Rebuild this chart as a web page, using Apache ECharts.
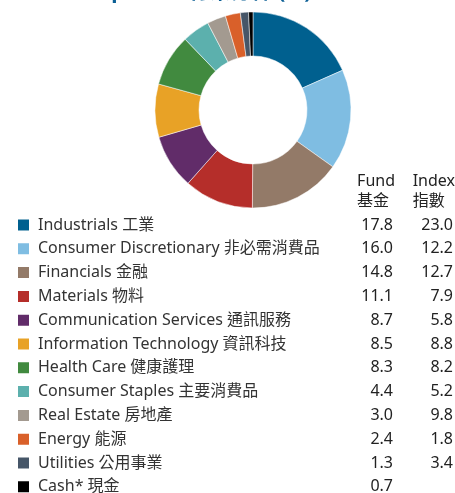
<!DOCTYPE html>
<html>
<head>
<meta charset="utf-8">
<script src="https://cdn.jsdelivr.net/npm/echarts@6/dist/echarts.min.js"></script>
<style>
  html, body { margin: 0; padding: 0; background: #fff; }
  #main { width: 455px; height: 493px; }
</style>
</head>
<body>
<div id="main"></div>
<script>
// sector names, fund weights, index weights (%)
var sectors = ['Industrials 工業', 'Consumer Discretionary 非必需消費品', 'Financials 金融',
    'Materials 物料', 'Communication Services 通訊服務', 'Information Technology 資訊科技',
    'Health Care 健康護理', 'Consumer Staples 主要消費品', 'Real Estate 房地產',
    'Energy 能源', 'Utilities 公用事業', 'Cash* 現金'];
var fundValues = [17.8, 16.0, 14.8, 11.1, 8.7, 8.5, 8.3, 4.4, 3.0, 2.4, 1.3, 0.7];
var indexValues = [23.0, 12.2, 12.7, 7.9, 5.8, 8.8, 8.2, 5.2, 9.8, 1.8, 3.4, null];
var colors = ['#00608f', '#7fbde2', '#937a68', '#b52e2a', '#612c69', '#e8a226',
    '#418a3f', '#5cb0ad', '#a39a90', '#d9602a', '#465668', '#000000'];

var font = '"Noto Sans", "Noto Sans CJK TC", sans-serif';

var dom = document.getElementById('main');
var myChart = echarts.init(dom);

var pieData = sectors.map(function (name, i) {
    return { name: name, value: fundValues[i] };
});

option = {
    animation: false,
    color: colors,
    graphic: [
        {
            type: 'text', left: 15, top: -18,
            style: {
                text: 'Sector exposure 行業分佈 (%)',
                font: 'bold 21px ' + font,
                fill: '#0b5f95'
            }
        },
        {
            type: 'text', right: 60, top: 171,
            style: { text: 'Fund\n基金', font: '16px ' + font, fill: '#222', lineHeight: 20, align: 'right' }
        },
        {
            type: 'text', right: 0, top: 171,
            style: { text: 'Index\n指數', font: '16px ' + font, fill: '#222', lineHeight: 20, align: 'right' }
        }
    ],
    legend: {
        orient: 'vertical',
        left: 11,
        top: 211,
        height: 300,
        icon: 'rect',
        itemWidth: 13,
        itemHeight: 13,
        itemGap: 5.8,
        selectedMode: false,
        data: sectors,
        formatter: function (name) {
            var i = sectors.indexOf(name);
            var idx = indexValues[i] == null ? '' : indexValues[i].toFixed(1);
            return '{n|' + name + '}{f|' + fundValues[i].toFixed(1) + '}{x|' + idx + '}';
        },
        textStyle: {
            color: '#333',
            fontFamily: font,
            fontSize: 16,
            lineHeight: 18,
            padding: [0, 0, 0, 3],
            rich: {
                n: { width: 318, fontSize: 16, color: '#333', fontFamily: font, lineHeight: 18 },
                f: { width: 37, align: 'right', fontSize: 16, color: '#222', fontFamily: font, lineHeight: 18 },
                x: { width: 60, align: 'right', fontSize: 16, color: '#222', fontFamily: font, lineHeight: 18 }
            }
        }
    },
    series: [
        {
            type: 'pie',
            center: [253, 110],
            radius: [54, 98],
            startAngle: 90,
            clockwise: true,
            label: { show: false },
            labelLine: { show: false },
            itemStyle: { borderColor: '#fff', borderWidth: 0.5 },
            emphasis: { disabled: true },
            data: pieData
        }
    ]
};

myChart.setOption(option, true);
</script>
</body>
</html>
